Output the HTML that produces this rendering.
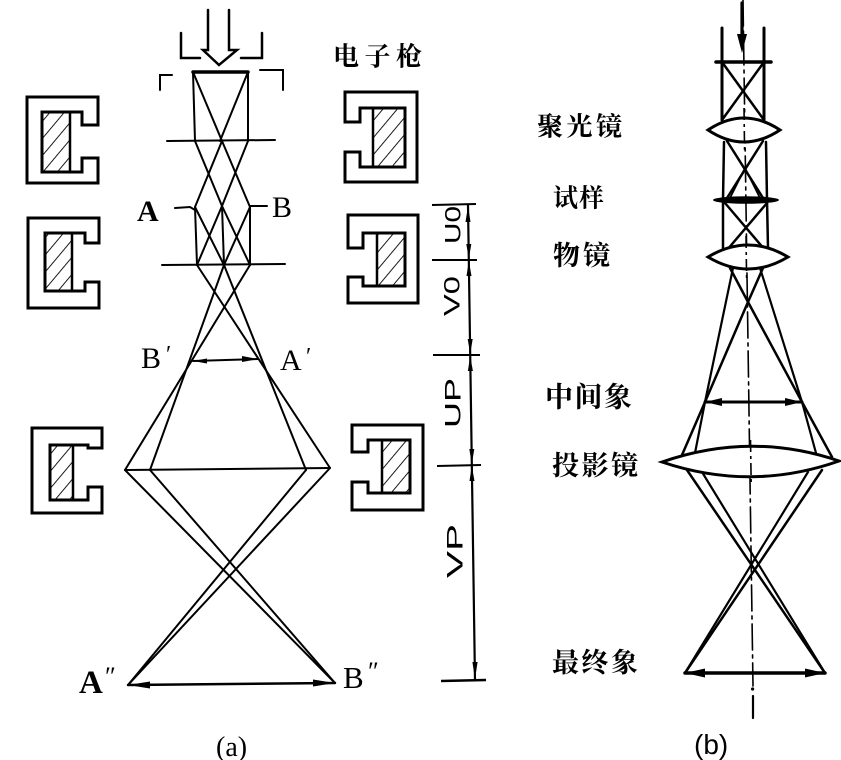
<!DOCTYPE html>
<html><head><meta charset="utf-8"><style>
html,body{margin:0;padding:0;background:#fff;}
svg{display:block;}
.cn{font-family:"Liberation Serif","Noto Serif CJK SC",serif;font-weight:700;fill:#000;}
.lat{font-family:"Liberation Serif",serif;fill:#000;}
.dim{font-family:"Liberation Sans",sans-serif;fill:#000;}
</style></head><body>
<svg width="841" height="760" viewBox="0 0 841 760" xmlns="http://www.w3.org/2000/svg">
<defs>
<pattern id="hatch" width="11" height="11" patternUnits="userSpaceOnUse" patternTransform="rotate(40)">
<line x1="0" y1="0" x2="0" y2="11" stroke="#000" stroke-width="1.8"/>
</pattern>
</defs>
<rect width="841" height="760" fill="#fff"/>

<!-- ===== Magnetic lens C shapes (left column, gap on right) ===== -->
<g fill="#fff" stroke="#000" stroke-width="3" stroke-linejoin="miter">
<path d="M27,97 L98,97 L98,125 L82,125 L82,112 L42,112 L42,172 L82,172 L82,158 L98,158 L98,183 L27,183 Z"/>
<path d="M28,218 L99,218 L99,243 L85,243 L85,233 L45,233 L45,291 L85,291 L85,282 L99,282 L99,308 L28,308 Z"/>
<path d="M32,428 L102,428 L102,448 L88,448 L88,445 L50,445 L50,500 L88,500 L88,487 L102,487 L102,513 L32,513 Z"/>
<!-- right column, gap on left -->
<path d="M417,92 L345,92 L345,122 L360,122 L360,108 L405,108 L405,167 L360,167 L360,152 L345,152 L345,182 L417,182 Z"/>
<path d="M418,215 L348,215 L348,248 L363,248 L363,233 L405,233 L405,286 L363,286 L363,277 L348,277 L348,303 L418,303 Z"/>
<path d="M423,425 L352,425 L352,452 L368,452 L368,440 L410,440 L410,493 L368,493 L368,482 L352,482 L352,510 L423,510 Z"/>
</g>
<g fill="url(#hatch)" stroke="#000" stroke-width="2.5">
<rect x="42" y="112" width="28" height="60"/>
<rect x="45" y="233" width="27" height="58"/>
<rect x="50" y="445" width="23" height="55"/>
<rect x="373" y="108" width="32" height="59"/>
<rect x="377" y="233" width="28" height="53"/>
<rect x="382" y="440" width="28" height="53"/>
</g>

<!-- ===== Diagram (a) rays ===== -->
<g stroke="#000" fill="none" stroke-width="2" stroke-linecap="round">
<!-- hollow arrow -->
<path d="M208,10 L208,50 L203,50 L219,65 L237,50 L229,50 L229,10" stroke-width="2.5" stroke-linejoin="miter"/>
<!-- upper brackets -->
<path d="M181,33 L181,58 L200,58" stroke-width="2.5"/>
<path d="M262,33 L262,58 L241,58" stroke-width="2.5"/>
<!-- lower brackets -->
<path d="M160,90 L160,75 L172,75" stroke-width="2"/>
<path d="M260,70 L283,70 L283,90" stroke-width="2"/>
<!-- box -->
<line x1="193" y1="72" x2="248" y2="72" stroke-width="3.5"/>
<line x1="193" y1="72" x2="195" y2="141"/>
<line x1="248" y1="72" x2="248" y2="141"/>
<line x1="193" y1="72" x2="222" y2="141"/>
<line x1="248" y1="72" x2="220" y2="141"/>
<line x1="167" y1="141" x2="275" y2="140"/>
<!-- lattice -->
<line x1="195" y1="141" x2="222" y2="206"/>
<line x1="222" y1="141" x2="195" y2="207"/>
<line x1="222" y1="141" x2="250" y2="207"/>
<line x1="248" y1="141" x2="222" y2="206"/>
<!-- A/B ticks -->
<path d="M175,208 L190,207 L195,210"/>
<line x1="250" y1="206" x2="267" y2="206"/>
<line x1="195" y1="207" x2="197" y2="265"/>
<line x1="222" y1="206" x2="224" y2="265"/>
<line x1="250" y1="207" x2="250" y2="265"/>
<line x1="195" y1="207" x2="224" y2="265"/>
<line x1="222" y1="206" x2="197" y2="265"/>
<line x1="222" y1="206" x2="250" y2="265"/>
<line x1="250" y1="207" x2="224" y2="265"/>
<line x1="162" y1="265" x2="285" y2="264"/>
<!-- to diamond -->
<line x1="197" y1="265" x2="330" y2="468"/>
<line x1="224" y1="265" x2="306" y2="470"/>
<line x1="250" y1="265" x2="125" y2="470"/>
<line x1="224" y1="265" x2="150" y2="470"/>
<!-- B' A' -->
<line x1="193" y1="361" x2="258" y2="359"/>
<!-- diamond horizontal -->
<line x1="125" y1="470" x2="330" y2="468"/>
<!-- to final image -->
<line x1="125" y1="470" x2="335" y2="683"/>
<line x1="150" y1="470" x2="335" y2="683"/>
<line x1="330" y1="468" x2="128" y2="685"/>
<line x1="306" y1="470" x2="128" y2="685"/>
<line x1="128" y1="685" x2="335" y2="683" stroke-width="2.5"/>
</g>
<g fill="#000">
<polygon points="258,359 242,356 242,362"/>
<polygon points="193,361 207,358.5 207,363.5"/>
<polygon points="128,685 150,681.5 150,688.5"/>
<polygon points="335,683 313,679.5 313,686.5"/>
</g>

<!-- ===== Dimension line ===== -->
<g stroke="#000" fill="none" stroke-width="2">
<line x1="468" y1="205" x2="475" y2="681" stroke-width="2.2"/>
<line x1="432" y1="205" x2="476" y2="204"/>
<line x1="432" y1="260" x2="477" y2="260"/>
<line x1="433" y1="355" x2="480" y2="355"/>
<line x1="437" y1="466" x2="481" y2="465"/>
<line x1="441" y1="681" x2="486" y2="680" stroke-width="2.5"/>
</g>
<g fill="#000">
<polygon points="468,206 465.5,222 470.5,222"/>
<polygon points="468.8,259 466.3,244 471.3,244"/>
<polygon points="468.8,261 466.5,276 471.5,276"/>
<polygon points="470.2,354 467.7,339 472.7,339"/>
<polygon points="470.2,356 467.9,371 472.9,371"/>
<polygon points="471.8,464 469.3,449 474.3,449"/>
<polygon points="471.8,466 469.5,481 474.5,481"/>
<polygon points="475,679 472.4,662 477.6,662"/>
</g>
<g class="dim" font-size="22">
<text transform="translate(453,225) rotate(-90)" text-anchor="middle" dominant-baseline="central" textLength="38" lengthAdjust="spacingAndGlyphs">U0</text>
<text transform="translate(452,296) rotate(-90)" text-anchor="middle" dominant-baseline="central" textLength="40" lengthAdjust="spacingAndGlyphs">V0</text>
<text transform="translate(453,403) rotate(-90)" text-anchor="middle" dominant-baseline="central" textLength="50" lengthAdjust="spacingAndGlyphs">UP</text>
<text transform="translate(455,551) rotate(-90)" text-anchor="middle" dominant-baseline="central" textLength="54" lengthAdjust="spacingAndGlyphs">VP</text>
</g>

<!-- ===== Labels (a) ===== -->
<text class="lat" x="137" y="221" font-size="30" font-weight="700">A</text>
<text class="lat" x="272" y="217" font-size="30">B</text>
<text class="lat" x="141" y="368" font-size="30">B</text>
<text class="lat" x="166" y="362" font-size="24">′</text>
<text class="lat" x="280" y="370" font-size="30">A</text>
<text class="lat" x="306" y="364" font-size="24">′</text>
<text class="lat" x="79" y="693" font-size="33" font-weight="700">A</text>
<text class="lat" x="105" y="685" font-size="26">″</text>
<text class="lat" x="343" y="688" font-size="31">B</text>
<text class="lat" x="368" y="680" font-size="26">″</text>
<text class="lat" x="216" y="756" font-size="28">(a)</text>
<text class="cn" x="333" y="57" font-size="26" dominant-baseline="central" textLength="89" lengthAdjust="spacing">电子枪</text>

<!-- ===== Diagram (b) ===== -->
<g stroke="#000" fill="none" stroke-linecap="round">
<!-- axis -->
<line x1="743" y1="0" x2="753" y2="686" stroke-width="1.6" stroke-dasharray="26 5 3 5"/>
<line x1="753" y1="696" x2="753" y2="718" stroke-width="2.2"/>
<!-- top arrows -->
<line x1="742" y1="3" x2="742" y2="40" stroke-width="3.2"/>
<line x1="722" y1="28" x2="722" y2="120" stroke-width="3"/>
<line x1="764" y1="28" x2="764" y2="120" stroke-width="3"/>
<line x1="716" y1="62" x2="771" y2="62" stroke-width="3.5"/>
<line x1="722" y1="62" x2="764" y2="120" stroke-width="2.5"/>
<line x1="764" y1="62" x2="722" y2="120" stroke-width="2.5"/>
<!-- condenser to specimen -->
<line x1="724" y1="142" x2="723" y2="200" stroke-width="2.5"/>
<line x1="766" y1="142" x2="767" y2="200" stroke-width="2.5"/>
<line x1="727" y1="141" x2="763" y2="198" stroke-width="2.5"/>
<line x1="763" y1="141" x2="727" y2="198" stroke-width="2.5"/>
<line x1="730" y1="198" x2="745" y2="168" stroke-width="1.8"/>
<line x1="760" y1="198" x2="745" y2="168" stroke-width="1.8"/>
<!-- specimen to objective -->
<line x1="723" y1="200" x2="723" y2="248" stroke-width="2.5"/>
<line x1="767" y1="200" x2="768" y2="248" stroke-width="2.5"/>
<line x1="725" y1="203" x2="765" y2="250" stroke-width="2.5"/>
<line x1="767" y1="203" x2="727" y2="250" stroke-width="2.5"/>
<!-- objective to projection -->
<polyline points="763,268 748,302 705,402 682,455" stroke-width="2.5"/>
<polyline points="730,268 748,302 802,402 832,457" stroke-width="2.5"/>
<polyline points="733,268 705,402 695,453" stroke-width="2.2"/>
<polyline points="760,268 802,402 816,453" stroke-width="2.2"/>
<line x1="705" y1="402" x2="802" y2="402" stroke-width="3"/>
<!-- projection to final -->
<line x1="687" y1="470" x2="825" y2="673" stroke-width="2.5"/>
<line x1="702" y1="472" x2="825" y2="673" stroke-width="2.2"/>
<line x1="822" y1="470" x2="685" y2="673" stroke-width="2.5"/>
<line x1="808" y1="472" x2="685" y2="673" stroke-width="2.2"/>
<line x1="685" y1="673" x2="825" y2="673" stroke-width="3.5"/>
</g>
<g fill="#000">
<polygon points="737,34 747,34 742,53"/>
<circle cx="752.6" cy="689" r="1.6"/>
<ellipse cx="746" cy="200" rx="33" ry="3.8"/>
<polygon points="705,402 722,398 722,406"/>
<polygon points="802,402 785,398 785,406"/>
<polygon points="685,673 705,668.5 705,677.5"/>
<polygon points="825,673 805,668.5 805,677.5"/>
</g>
<g fill="#fff" stroke="#000" stroke-width="3">
<path d="M708,130 Q744,106 780,130 Q744,154 708,130 Z"/>
<path d="M708,257 Q748,233 788,257 Q748,281 708,257 Z"/>
<path d="M662,462 Q751,431 839,461 Q751,492 662,462 Z"/>
</g>
<g stroke="#000" stroke-width="1.6" stroke-dasharray="12 4 3 4">
<line x1="744" y1="108" x2="744.6" y2="152"/>
<line x1="746" y1="236" x2="746.6" y2="278"/>
<line x1="750.5" y1="440" x2="751.2" y2="485"/>
</g>

<!-- Labels (b) -->
<g class="cn" dominant-baseline="central">
<text x="537" y="127" font-size="26" textLength="85" lengthAdjust="spacing">聚光镜</text>
<text x="553" y="199" font-size="25" textLength="51" lengthAdjust="spacing">试样</text>
<text x="553" y="256" font-size="27" textLength="57" lengthAdjust="spacing">物镜</text>
<text x="545" y="398" font-size="28" textLength="87" lengthAdjust="spacing">中间象</text>
<text x="552" y="466" font-size="27" textLength="86" lengthAdjust="spacing">投影镜</text>
<text x="552" y="663" font-size="27" textLength="86" lengthAdjust="spacing">最终象</text>
</g>
<text x="694" y="754" font-size="28" font-family="Liberation Sans, sans-serif" fill="#000">(b)</text>
</svg>
</body></html>
